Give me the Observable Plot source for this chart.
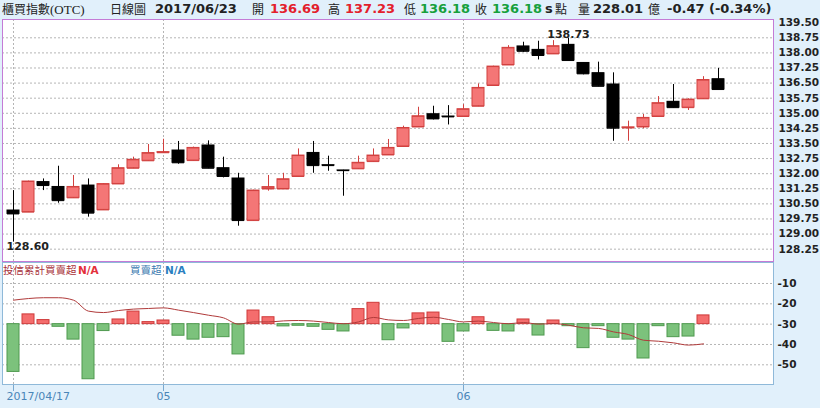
<!DOCTYPE html>
<html><head><meta charset="utf-8">
<script src="https://cdn.jsdelivr.net/npm/d3@7"></script>
<script src="https://cdn.jsdelivr.net/npm/@observablehq/plot@0.6"></script>
<style>
body{margin:0;background:#e1f0fb;}
#wrap{position:relative;width:820px;height:408px;overflow:hidden;background:#e1f0fb;font-family:"DejaVu Sans",sans-serif;}
.h{position:absolute;top:0;height:18px;line-height:18px;font-size:13px;white-space:nowrap;color:#222;}
.b{font-weight:bold;}
.c{font-family:"Noto Sans CJK TC",sans-serif;font-size:12px;}
.r{color:#e3202c;}
.g{color:#17a03c;}
.l{position:absolute;top:262px;height:16px;line-height:16px;font-size:10.5px;white-space:nowrap;}
#topc{position:absolute;left:0;top:18px;}
#botc{position:absolute;left:0;top:261px;}
</style></head>
<body><div id="wrap">
<span class="h c" style="left:2px;">櫃買指數<span style="font-family:'Liberation Serif';font-size:13px">(OTC)</span></span>
<span class="h c" style="left:110px;">日線圖</span>
<span class="h b" style="left:155px;" id="hdate"></span>
<span class="h c" style="left:252px;">開</span>
<span class="h b r" style="left:270px;" id="hopen"></span>
<span class="h c" style="left:328px;">高</span>
<span class="h b r" style="left:345px;" id="hhigh"></span>
<span class="h c" style="left:404px;">低</span>
<span class="h b g" style="left:420px;" id="hlow"></span>
<span class="h c" style="left:475px;">收</span>
<span class="h b g" style="left:492px;" id="hclose"></span>
<span class="h b" style="left:545px;">s</span>
<span class="h c" style="left:555px;">點</span>
<span class="h c" style="left:578px;">量</span>
<span class="h b" style="left:593px;" id="hvol"></span>
<span class="h c" style="left:648px;">億</span>
<span class="h b" style="left:667px;" id="hchg"></span>
<div id="topc"></div>
<div id="botc"></div>
<span class="l c" style="left:3px;color:#a8323a;">投信累計買賣超</span>
<span class="l b" style="left:78px;color:#e3303a;">N/A</span>
<span class="l c" style="left:130px;color:#3c7ab0;">買賣超</span>
<span class="l b" style="left:165px;color:#2a80c0;">N/A</span>
</div>
<script>
// ---- data ----
const dates = [
 "2017-04-17","2017-04-18","2017-04-19","2017-04-20","2017-04-21","2017-04-24","2017-04-25","2017-04-26","2017-04-27","2017-04-28",
 "2017-05-02","2017-05-03","2017-05-04","2017-05-05","2017-05-08","2017-05-09","2017-05-10","2017-05-11","2017-05-12","2017-05-15",
 "2017-05-16","2017-05-17","2017-05-18","2017-05-19","2017-05-22","2017-05-23","2017-05-24","2017-05-25","2017-05-26","2017-05-31",
 "2017-06-01","2017-06-02","2017-06-03","2017-06-05","2017-06-06","2017-06-07","2017-06-08","2017-06-09","2017-06-12","2017-06-13",
 "2017-06-14","2017-06-15","2017-06-16","2017-06-19","2017-06-20","2017-06-21","2017-06-22","2017-06-23"];
const open = [130.17,130.09,131.58,131.34,130.80,131.41,130.20,131.49,132.27,132.64,
 133.04,133.15,132.65,133.40,132.27,131.76,129.67,131.24,131.24,131.86,
 133.03,132.42,132.16,132.24,132.60,132.93,133.35,134.32,134.95,134.84,
 134.84,135.35,136.38,137.40,138.32,138.15,137.95,138.40,137.50,136.99,
 136.43,134.27,134.32,134.84,135.57,135.28,135.72,136.69];
const high = [131.16,131.63,131.74,132.37,131.91,131.74,131.50,132.44,132.82,133.45,
 133.71,133.60,133.32,133.63,132.82,132.02,131.18,131.91,132.02,133.23,
 133.60,132.87,132.17,132.87,133.23,133.70,134.36,135.30,135.35,135.38,
 135.43,136.46,137.34,138.36,138.53,138.58,138.61,138.73,137.52,137.54,
 137.01,134.61,134.94,135.83,136.43,135.72,136.82,137.23];
const low = [128.60,130.07,131.16,130.53,130.78,129.84,130.18,131.47,132.25,132.62,
 133.03,132.47,132.63,132.25,131.79,129.39,129.65,131.13,131.22,131.84,
 132.02,132.12,130.88,132.22,132.58,132.91,133.33,134.30,134.67,134.42,
 134.82,135.33,136.36,137.38,138.03,137.65,137.93,137.60,136.91,136.32,
 133.61,133.61,134.23,134.82,135.26,135.14,135.70,136.18];
const close = [130.00,131.61,131.41,130.66,131.34,130.04,131.48,132.27,132.69,133.02,
 133.07,132.54,133.28,132.27,131.86,129.67,131.16,131.33,131.72,132.90,
 132.40,132.40,132.15,132.54,132.90,133.28,134.27,134.85,134.72,134.82,
 135.20,136.26,137.32,138.25,138.08,137.87,138.33,137.62,136.96,136.34,
 134.26,134.30,134.77,135.50,135.28,135.68,136.65,136.18];
// daily net buy/sell bars (drawn from the -30 level) and cumulative line
const barBase = -30;
const dailyNet = [-23.5,4.8,2.0,-1.3,-7.6,-27.1,-3.4,2.3,6.2,1.0,
 1.8,-5.7,-7.6,-6.7,-6.4,-14.9,6.7,3.4,-1.1,-0.8,
 -1.3,-2.8,-3.6,7.4,10.5,-7.9,-2.1,5.3,5.7,-8.7,
 -3.6,3.4,-3.3,-3.6,2.3,-5.6,1.8,-1.0,-11.8,-1.0,
 -6.7,-7.6,-16.9,-1.0,-6.4,-6.1,4.3,null];
const cumNet = [-18.2,-17.4,-17.0,-17.0,-18.2,-23.6,-24.3,-23.3,-22.6,-22.3,
 -22.0,-23.1,-24.3,-25.6,-26.9,-30.0,-28.9,-28.9,-28.4,-28.2,
 -28.5,-29.2,-29.8,-28.9,-26.7,-27.9,-28.2,-27.2,-26.6,-27.7,
 -28.9,-28.5,-29.2,-29.8,-29.2,-30.0,-29.7,-30.5,-31.8,-32.1,
 -33.8,-35.1,-37.9,-38.4,-39.2,-40.3,-39.7,null];
const priceTicks = [139.50,138.75,138.00,137.25,136.50,135.75,135.00,134.25,133.50,132.75,132.00,131.25,130.50,129.75,129.00,128.25];
const netTicks = [-10,-20,-30,-40,-50];
const xTickDates = ["2017-04-17","2017-05-02","2017-06-01"];
const xTickLabels = ["2017/04/17","05","06"];
const header = {date:"2017/06/23", open:"136.69", high:"137.23", low:"136.18", close:"136.18", vol:"228.01", chg:"-0.47 (-0.34%)"};

// ---- header ----
document.getElementById("hdate").textContent = header.date;
document.getElementById("hopen").textContent = header.open;
document.getElementById("hhigh").textContent = header.high;
document.getElementById("hlow").textContent = header.low;
document.getElementById("hclose").textContent = header.close;
document.getElementById("hvol").textContent = header.vol;
document.getElementById("hchg").textContent = header.chg;

const candles = dates.map((d,i)=>({date:d, open:open[i], high:high[i], low:low[i], close:close[i], up: close[i] >= open[i]}));
const flows = dates.map((d,i)=>({date:d, net:dailyNet[i], cum:cumNet[i]}));

const RED_FILL = "#f47676", RED_STROKE = "#d2403f", BLACK = "#000";
const xScale = {type:"band", domain:dates, range:[4.17, 727.5], paddingInner:0.18, paddingOuter:0.09};
const gridStyle = {stroke:"#b5b5b5", strokeDasharray:"2,2", strokeWidth:1};
const font = {fontFamily:"DejaVu Sans, sans-serif", background:"transparent", overflow:"visible"};

const iLow = d3.minIndex(candles, d=>d.low);
const iHigh = d3.maxIndex(candles, d=>d.high);

const topChart = Plot.plot({
  width:820, height:244, marginTop:1, marginBottom:1, marginLeft:2, marginRight:47,
  style:font,
  x:{...xScale, axis:null},
  y:{domain:[127.637, 139.659]},
  marks:[
    Plot.frame({fill:"white", stroke:"none"}),
    Plot.ruleY(priceTicks.filter(v=>v<139.5), gridStyle),
    Plot.ruleX(xTickDates, gridStyle),
    Plot.ruleX(candles, {x:"date", y1:"low", y2:"high", stroke:d=>d.up?RED_STROKE:BLACK, strokeWidth:1}),
    Plot.barY(candles, {x:"date", y1:"open", y2:"close", fill:d=>d.up?RED_FILL:BLACK, stroke:d=>d.up?RED_STROKE:BLACK, strokeWidth:1}),
    Plot.tickY(candles, {x:"date", y:"close", stroke:d=>d.up?RED_STROKE:BLACK, strokeWidth:1}),
    Plot.tickY(candles, {x:"date", y:"open", stroke:d=>d.up?RED_STROKE:BLACK, strokeWidth:1}),
    Plot.text([candles[iLow]], {x:"date", y:"low", text:d=>d.low.toFixed(2), lineAnchor:"top", textAnchor:"start", dx:-7, dy:0, fontSize:11, fontWeight:"bold", fill:"#222"}),
    Plot.text([candles[iHigh]], {x:"date", y:"high", text:d=>d.high.toFixed(2), lineAnchor:"bottom", dy:0, fontSize:11, fontWeight:"bold", fill:"#222"}),
    Plot.axisY(priceTicks, {anchor:"right", tickSize:0, tickPadding:5, tickFormat:d=>d.toFixed(2), fontSize:10.5, fontWeight:"bold", color:"#222", label:null}),
    Plot.frame({stroke:"#c47bd6", fill:"none"})
  ]
});
document.getElementById("topc").appendChild(topChart);

const botChart = Plot.plot({
  width:820, height:147, marginTop:1, marginBottom:24, marginLeft:2, marginRight:47,
  style:font,
  x:xScale,
  y:{domain:[-59.69, 0.33]},
  marks:[
    Plot.frame({fill:"white", stroke:"none"}),
    Plot.ruleY(netTicks, gridStyle),
    Plot.ruleX(xTickDates, gridStyle),
    Plot.barY(flows.filter(d=>d.net!=null), {x:"date", y1:()=>barBase, y2:d=>barBase+d.net,
      fill:d=>d.net>=0?"#f46d6d":"#7cc27c", stroke:d=>d.net>=0?"#cf3a3a":"#4f9a4f", strokeWidth:1}),
    Plot.line(flows.filter(d=>d.cum!=null), {x:"date", y:"cum", stroke:"#b03a3a", strokeWidth:1, curve:"monotone-x"}),
    Plot.axisY(netTicks, {anchor:"right", tickSize:0, tickPadding:4, tickFormat:d=>String(d), fontSize:10.5, fontWeight:"bold", color:"#222", label:null}),
    Plot.axisX(xTickDates, {anchor:"bottom", tickSize:7, tickFormat:()=>"", color:"#7aa8cf", label:null}),
    Plot.text(xTickDates.slice(0,1), {x:d=>d, text:()=>xTickLabels[0], frameAnchor:"bottom", dy:15, dx:-7, textAnchor:"start", fontSize:11, fill:"#4a86b8"}),
    Plot.text(xTickDates.slice(1), {x:d=>d, text:(d,i)=>xTickLabels[i+1], frameAnchor:"bottom", dy:15, fontSize:11, fill:"#4a86b8"}),
    Plot.frame({stroke:"#8fb9d9", fill:"none"})
  ]
});
document.getElementById("botc").appendChild(botChart);
</script>
</body></html>
